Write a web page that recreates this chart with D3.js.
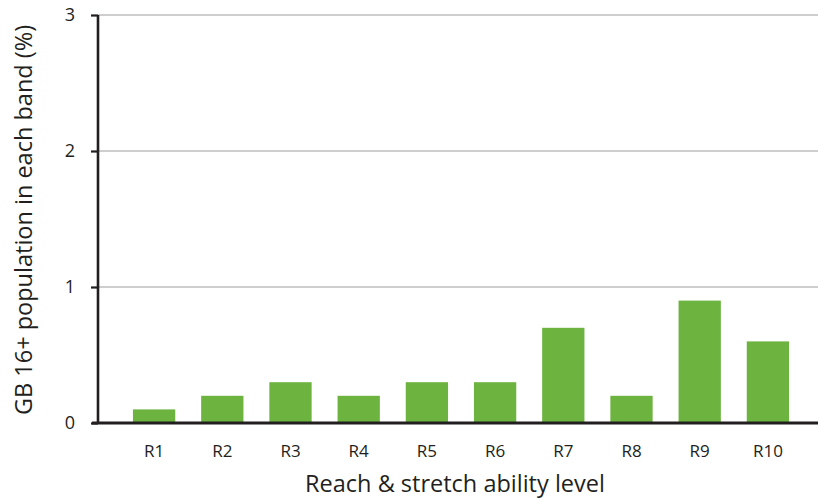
<!DOCTYPE html>
<html>
<head>
<meta charset="utf-8">
<script src="https://cdn.jsdelivr.net/npm/d3@7"></script>
<style>
body{margin:0;background:#fff;}
text{font-family:"Open Sans","Noto Sans",sans-serif;fill:#231f20;}
</style>
</head>
<body>
<svg id="chart" width="818" height="500"></svg>
<script>
const categories = ["R1","R2","R3","R4","R5","R6","R7","R8","R9","R10"];
const values = [0.1,0.2,0.3,0.2,0.3,0.3,0.7,0.2,0.9,0.6];
const yTicks = [0,1,2,3];
const xTitle = "Reach & stretch ability level";
const yTitle = "GB 16+ population in each band (%)";

const svg = d3.select("#chart");
const axisX = 98, plotRight = 818, y0 = 423, yTop = 15;

const x = d3.scaleBand().domain(categories).range([120, 802]).paddingInner(0.38).paddingOuter(0.19);
const y = d3.scaleLinear().domain([0,3]).range([y0, yTop]);

// gridlines
svg.append("g").selectAll("line").data(yTicks.filter(d=>d>0)).join("line")
  .attr("x1", axisX).attr("x2", plotRight)
  .attr("y1", d=>y(d)).attr("y2", d=>y(d))
  .attr("stroke", "#9d9d9d").attr("stroke-width", 1.2);

// bars
svg.append("g").selectAll("rect").data(values).join("rect")
  .attr("x", (d,i)=>x(categories[i]))
  .attr("width", x.bandwidth())
  .attr("y", d=>y(d))
  .attr("height", d=>y0 - y(d))
  .attr("fill", "#6db33f");

// y axis
const yAxis = d3.axisLeft(y).tickValues(yTicks).tickFormat(d3.format("d")).tickSize(7).tickPadding(16);
const gy = svg.append("g").attr("transform", `translate(${axisX},0)`).call(yAxis);
gy.select(".domain").attr("stroke", "#231f20").attr("stroke-width", 2.6).attr("d", `M0,${yTop}V${y0}`);
gy.selectAll(".tick line").attr("stroke", "#231f20").attr("stroke-width", 2.2);
gy.selectAll(".tick text").attr("font-size", 18).attr("fill", "#231f20").style("font-family", "'Open Sans','Noto Sans',sans-serif");

// x axis
const xAxis = d3.axisBottom(x).tickSize(0).tickPadding(22);
const gx = svg.append("g").attr("transform", `translate(0,${y0})`).call(xAxis);
gx.select(".domain").attr("stroke", "#231f20").attr("stroke-width", 3).attr("d", `M${axisX-6},0H${plotRight}`);
gx.selectAll(".tick text").attr("font-size", 17).attr("fill", "#231f20").style("font-family", "'Open Sans','Noto Sans',sans-serif");

// titles
svg.append("text").attr("x", 455).attr("y", 492).attr("text-anchor", "middle")
  .attr("font-size", 23.5).text(xTitle);
svg.append("text").attr("transform", "translate(32,220) rotate(-90)").attr("text-anchor", "middle")
  .attr("font-size", 23.5).text(yTitle);
</script>
</body>
</html>
